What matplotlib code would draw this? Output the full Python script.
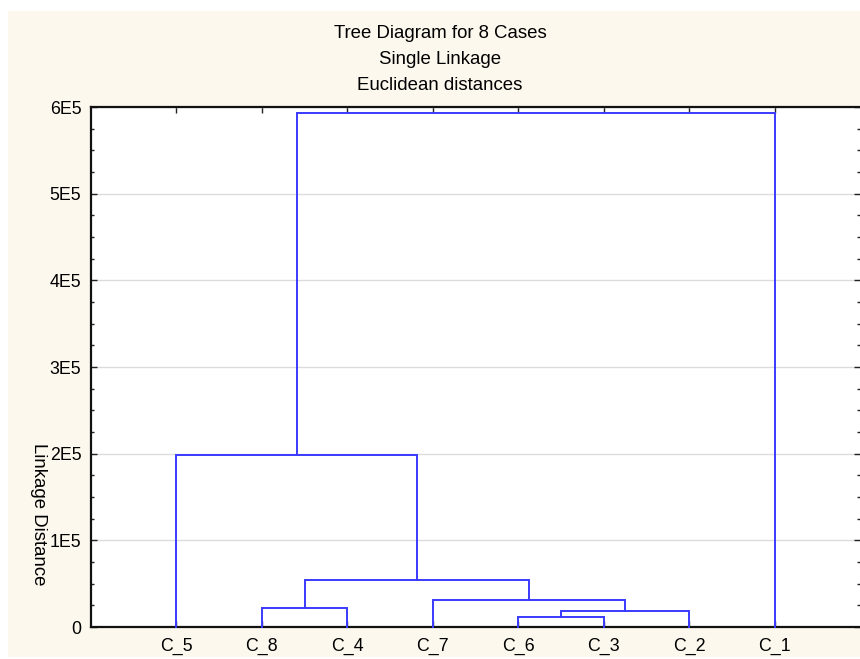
import matplotlib.pyplot as plt
from matplotlib.patches import Rectangle
from matplotlib.ticker import MultipleLocator, FixedLocator

plt.rcParams['font.family'] = ['Liberation Sans', 'DejaVu Sans']

# leaf order along the x axis
leaves = ['C_5', 'C_8', 'C_4', 'C_7', 'C_6', 'C_3', 'C_2', 'C_1']
# merge steps (G1 = result of first merge, etc.)
merge_a = ['C_6', 'G1', 'C_8', 'C_7', 'G3', 'C_5', 'G6']
merge_b = ['C_3', 'C_2', 'C_4', 'G2', 'G4', 'G5', 'C_1']
merge_h = [11900, 18500, 21600, 31200, 54200, 198000, 593000]

ytick_vals = [0, 100000, 200000, 300000, 400000, 500000, 600000]
ytick_labels = ['0', '1E5', '2E5', '3E5', '4E5', '5E5', '6E5']

fig = plt.figure(figsize=(8.6, 6.59), dpi=100)
fig.patch.set_facecolor('white')
fig.patches.append(Rectangle((8 / 860, 2 / 659), 852 / 860, 646 / 659,
                             transform=fig.transFigure, facecolor='#fcf8ee',
                             edgecolor='none', zorder=-10))

ax = fig.add_axes([91 / 860, 32 / 659, 769 / 860, 520 / 659])
ax.set_facecolor('white')

# positions of clusters
pos = {name: i + 1 for i, name in enumerate(leaves)}
hgt = {name: 0 for name in leaves}
blue = '#3a3aff'
for i, (a, b, h) in enumerate(zip(merge_a, merge_b, merge_h)):
    xa, xb = pos[a], pos[b]
    ax.plot([xa, xa, xb, xb], [hgt[a], h, h, hgt[b]], color=blue, lw=1.4,
            solid_joinstyle='miter', zorder=3, clip_on=False)
    g = 'G%d' % (i + 1)
    pos[g] = (xa + xb) / 2
    hgt[g] = h

ax.set_xlim(0, 9)
ax.set_ylim(0, 600000)
ax.xaxis.set_major_locator(FixedLocator(range(1, len(leaves) + 1)))
ax.set_xticklabels(leaves)
ax.set_yticks(ytick_vals)
ax.set_yticklabels(ytick_labels)
ax.yaxis.set_minor_locator(MultipleLocator(25000))

ax.grid(axis='y', color='#dcdcdc', lw=1, zorder=1)
ax.tick_params(axis='both', which='major', direction='in', length=4, width=1,
               labelsize=12.8, top=True, right=True, color='#222222')
ax.tick_params(axis='y', which='minor', direction='in', length=2, width=1,
               right=True, color='#222222')
ax.tick_params(axis='x', pad=8)
ax.tick_params(axis='y', pad=7)
for s in ax.spines.values():
    s.set_linewidth(1.6)
    s.set_color('#111111')
ax.spines['right'].set_visible(False)

fig.text(440 / 860, 1 - 33 / 659, 'Tree Diagram for 8 Cases', ha='center', va='center', fontsize=13.4)
fig.text(440 / 860, 1 - 60 / 659, 'Single Linkage', ha='center', va='center', fontsize=13.4)
fig.text(440 / 860, 1 - 86 / 659, 'Euclidean distances', ha='center', va='center', fontsize=13.4)
fig.text(38 / 860, 1 - 514 / 659, 'Linkage Distance', rotation=270,
         ha='center', va='center', fontsize=13.4)

fig.savefig('out.png', dpi=100, facecolor=fig.get_facecolor())
